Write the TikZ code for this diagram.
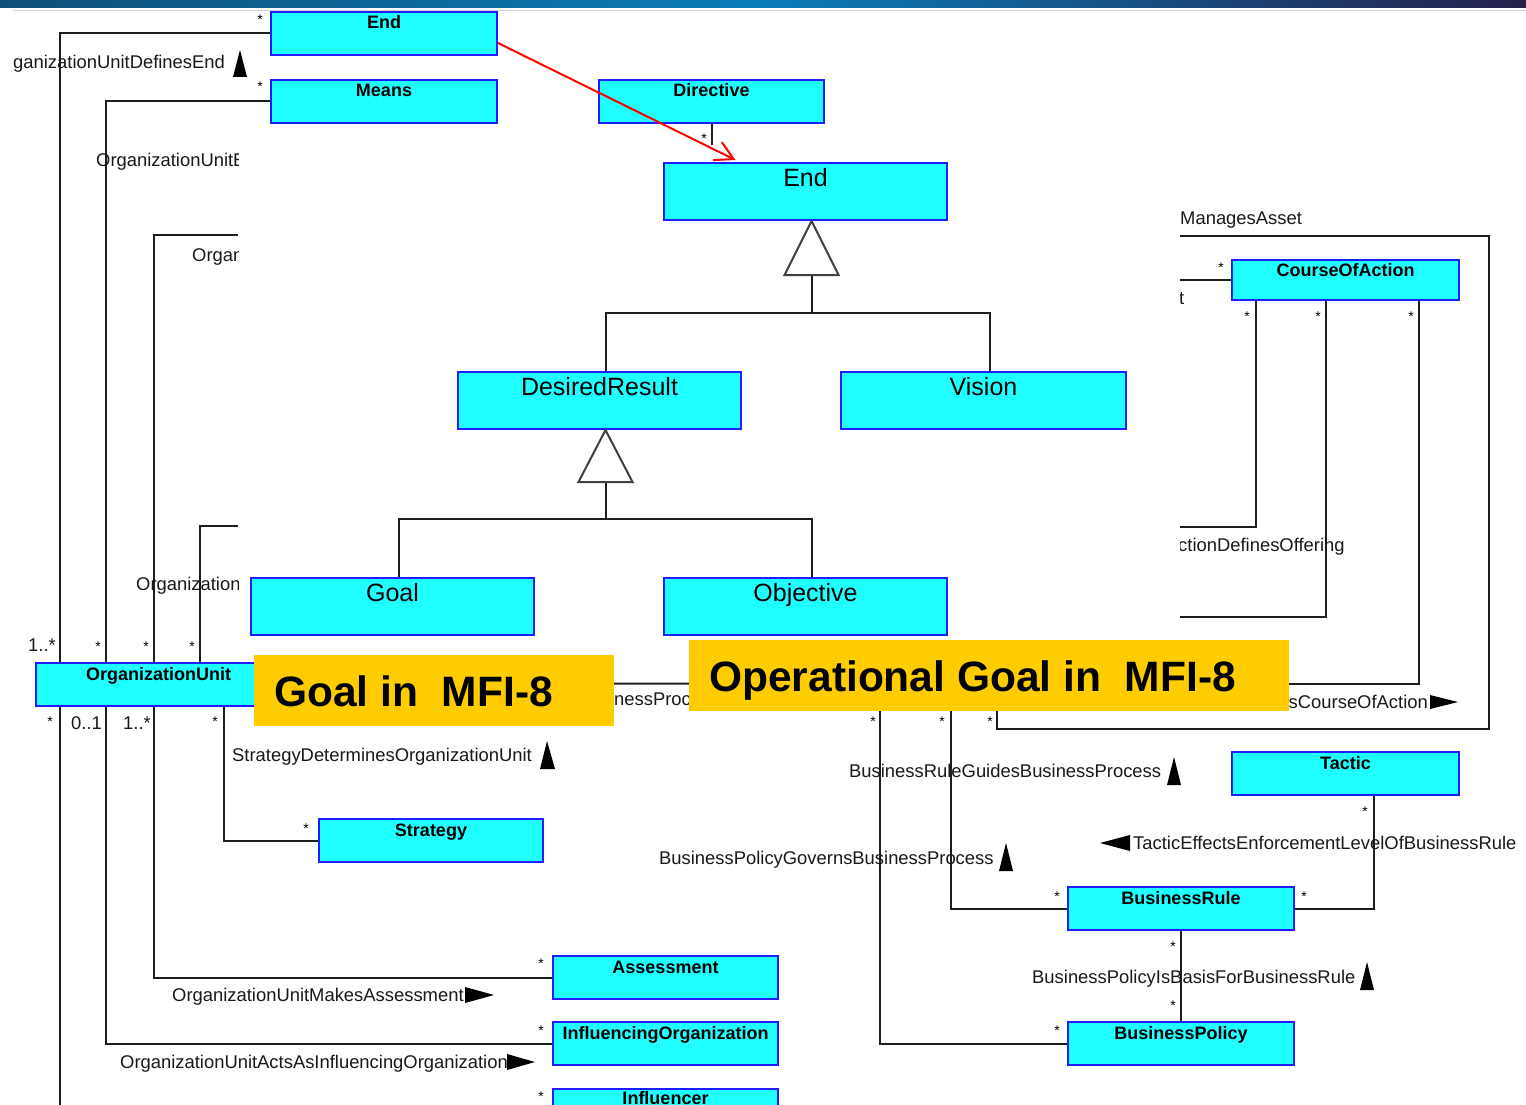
\documentclass[tikz,border=0pt]{standalone}
\usepackage{fontspec}
\setmainfont{Liberation Sans}
\usetikzlibrary{arrows.meta}
\definecolor{boxcyan}{RGB}{32,255,255}
\definecolor{boxblue}{RGB}{30,30,255}
\definecolor{ylw}{RGB}{255,204,0}
\definecolor{lnclr}{RGB}{30,30,30}
\definecolor{barL}{RGB}{14,80,120}
\definecolor{barM}{RGB}{10,125,185}
\definecolor{barR}{RGB}{38,32,75}
\newcommand\BoxFontS{\fontsize{18}{20}\selectfont\bfseries}
\newcommand\BoxFontL{\fontsize{25}{28}\selectfont}
\newcommand\LblFont{\fontsize{18.4}{20}\selectfont}
\newcommand\StarFont{\fontsize{14}{14}\selectfont}
\newcommand\YelFont{\fontsize{42.5}{46}\selectfont\bfseries}
\begin{document}
\begin{tikzpicture}[x=1pt,y=-1pt,
  conn/.style={draw=lnclr, line width=2pt},
  box/.style={draw=boxblue, fill=boxcyan, line width=2pt, inner sep=0pt, anchor=north west},
  sbox/.style={box, font=\BoxFontS, minimum width=226pt, text height=17pt, text depth=26pt},
  lbox/.style={box, font=\BoxFontL, minimum width=283pt, text height=23pt, text depth=34pt},
  lbl/.style={font=\LblFont, inner sep=0pt, anchor=base west, text=black!90},
  star/.style={font=\StarFont, inner sep=0pt, anchor=base},
  gen/.style={draw=black!75, fill=white, line width=2pt, line join=miter},
  dirtri/.style={fill=black},
  ybox/.style={fill=ylw, inner sep=0pt, minimum height=71pt, anchor=north west},
  ytxt/.style={font=\YelFont, inner sep=0pt, anchor=west, text height=31pt, text depth=0pt}]
\fill[white] (0,0) rectangle (1526,1105);
\clip (0,0) rectangle (1526,1105);
\shade[left color=barL, right color=barM] (0,0) rectangle (763,7.5);
\shade[left color=barM, right color=barR] (763,0) rectangle (1526,7.5);
\draw[gray!35, line width=1.5pt] (13,10.5) -- (1526,10.5);

% boxes
\node[sbox] (End1) at (270,11) {End};
\node[sbox] (Means) at (270,79) {Means};
\node[sbox, minimum width=225pt] (Dir) at (598,79) {Directive};
\node[lbox] (End2) at (663,162) {End};
\node[lbox] (DR) at (457,371) {DesiredResult};
\node[lbox, minimum width=285pt] (Vis) at (840,371) {Vision};
\node[lbox] (Goal) at (250,577) {Goal};
\node[lbox] (Obj) at (663,577) {Objective};
\node[sbox, minimum width=245pt] (OU) at (35,662) {OrganizationUnit};
\node[sbox, minimum width=224pt] (Strat) at (318,818) {Strategy};
\node[sbox, minimum width=225pt] (Assess) at (552,955) {Assessment};
\node[sbox, minimum width=225pt] (InfOrg) at (552,1021) {InfluencingOrganization};
\node[sbox, minimum width=225pt, text height=15pt, text depth=28pt] (Infl) at (552,1088) {Influencer};
\node[sbox, minimum width=227pt, text height=16pt, text depth=24pt] (CoA) at (1231,259) {CourseOfAction};
\node[sbox, minimum width=227pt] (Tac) at (1231,751) {Tactic};
\node[sbox] (BR) at (1067,886) {BusinessRule};
\node[sbox] (BP) at (1067,1021) {BusinessPolicy};

% generalizations
\coordinate (g1) at ([xshift=6pt]End2.south);
\coordinate (g1b) at ([yshift=-54pt]g1);
\draw[conn] (g1b) -- ++(0,38) -| ([xshift=6pt]DR.north);
\draw[conn] (g1b) -- ++(0,38) -| ([xshift=6pt]Vis.north);
\filldraw[gen] (g1) -- ++(-27,54) -- ++(54,0) -- cycle;
\coordinate (g2) at ([xshift=6pt]DR.south);
\coordinate (g2b) at ([yshift=-52pt]g2);
\draw[conn] (g2b) -- ++(0,37) -| ([xshift=6pt]Goal.north);
\draw[conn] (g2b) -- ++(0,37) -| ([xshift=6pt]Obj.north);
\filldraw[gen] (g2) -- ++(-27,52) -- ++(54,0) -- cycle;

% left connectors
\draw[conn] (End1.west) -| ([xshift=25pt]OU.north west);
\draw[conn] (Means.west) -| ([xshift=71pt]OU.north west);
\coordinate (h3) at (238,235);
\draw[conn] (h3) -| ([xshift=119pt]OU.north west);
\coordinate (h4) at (238,526);
\draw[conn] (h4) -| ([xshift=165pt]OU.north west);
\coordinate (h60) at (60,1110);
\draw[conn] ([xshift=25pt]OU.south west) -- (h60);
\draw[conn] ([xshift=71pt]OU.south west) |- (InfOrg.west);
\draw[conn] ([xshift=119pt]OU.south west) |- (Assess.west);
\draw[conn] ([xshift=189pt]OU.south west) |- (Strat.west);
\coordinate (bp1) at (700,683.5);
\draw[conn] (OU.east) -- (bp1);
\coordinate (d1) at (710.5,145);
\draw[conn] (Dir.south) -- (Dir.south |- d1);

% right connectors
\coordinate (h5) at (1180,279);
\draw[conn] (CoA.west) -- (CoA.west -| h5);
\coordinate (h6) at (1180,527);
\draw[conn] ([xshift=25pt]CoA.south west) |- (h6);
\coordinate (h7) at (1180,617);
\draw[conn] ([xshift=95pt]CoA.south west) |- (h7);
\coordinate (h8) at (1280,684);
\draw[conn] ([xshift=188pt]CoA.south west) |- (h8);
\coordinate (h9) at (1180,236);
\coordinate (loopc) at (1489,729);
\coordinate (bp2) at (997,700);
\draw[conn] (h9) -| (loopc) -| (bp2);
\coordinate (bp3) at (951,700);
\draw[conn] (bp3) |- (BR.west);
\coordinate (bp4) at (880,700);
\draw[conn] (bp4) |- (BP.west);
\draw[conn] ([xshift=28.5pt]Tac.south) |- (BR.east);
\draw[conn] (BR.south) -- (BP.north);

% labels
\node[lbl] (l1) at (13,69) {ganizationUnitDefinesEnd};
\fill[dirtri] (233,77) -- (240,50) -- (247,77) -- cycle;
\begin{scope}
\clip (0,140) rectangle (238,650);
\node[lbl] (l2) at (96,166) {OrganizationUnitE};
\node[lbl] (l3) at (192,261) {Organ};
\node[lbl] (l4) at (136,590) {Organization};
\end{scope}
\begin{scope}
\clip (1180,140) rectangle (1526,650);
\node[lbl] (l13) at (1180,224) {ManagesAsset};
\node[lbl] (l14) at (1179,304) {t};
\node[lbl] (l15) at (1178,551) {ctionDefinesOffering};
\end{scope}
\node[lbl] (l5) at (232,761) {StrategyDeterminesOrganizationUnit};
\fill[dirtri] (540,769) -- (547,741) -- (555,769) -- cycle;
\node[lbl] (l6) at (172,1001) {OrganizationUnitMakesAssessment};
\fill[dirtri] (465,987) -- (494,995) -- (465,1003) -- cycle;
\node[lbl] (l7) at (120,1068) {OrganizationUnitActsAsInfluencingOrganization};
\fill[dirtri] (507,1054) -- (535,1062) -- (507,1070) -- cycle;
\node[lbl] (l8) at (614,705) {nessProc};
\node[lbl] (l9) at (849,777) {BusinessRuleGuidesBusinessProcess};
\fill[dirtri] (1167,785) -- (1174,757) -- (1181,785) -- cycle;
\node[lbl] (l10) at (659,864) {BusinessPolicyGovernsBusinessProcess};
\fill[dirtri] (999,871) -- (1006,843) -- (1013,871) -- cycle;
\node[lbl] (l11) at (1133,849) {TacticEffectsEnforcementLevelOfBusinessRule};
\fill[dirtri] (1130,835) -- (1100,843) -- (1130,851) -- cycle;
\node[lbl] (l12) at (1032,983) {BusinessPolicyIsBasisForBusinessRule};
\fill[dirtri] (1360,990) -- (1367,962) -- (1374,990) -- cycle;
\node[lbl, anchor=base east] (l16) at (1428,708) {sCourseOfAction};
\fill[dirtri] (1430,695) -- (1458,702) -- (1430,709) -- cycle;

% multiplicities
\node[lbl] (m1) at (28,651) {1..*};
\node[lbl] (m2) at (71,729) {0..1};
\node[lbl] (m3) at (123,729) {1..*};
\foreach \sx/\sy [count=\i] in {260/17,260/84,704/135,1221/264,1247/313,1318/313,1411/313,873/718,942/718,990/718,1057/893,1304/893,1365/808,1173/943,1173/1002,1057/1027,306/825,541/960,541/1027,541/1093,98/643,146/643,192/643,50/718,215/718}
  \node[star] (s\i) at (\sx,\sy+8) {*};

% overlays
\node[ybox, minimum width=360pt] (Y1) at (254,655) {};
\node[ytxt] (Y1t) at ([xshift=20pt]Y1.west) {Goal in\ \ MFI-8};
\node[ybox, minimum width=600pt] (Y2) at (689,640) {};
\node[ytxt] (Y2t) at ([xshift=20pt]Y2.west) {Operational Goal in\ \ MFI-8};

\draw[red, line width=2pt, -{Straight Barb[length=18pt,width=20pt]}] ([yshift=-9.5pt]End1.east) -- ([xshift=-70pt,yshift=2pt]End2.north);
\end{tikzpicture}
\end{document}
